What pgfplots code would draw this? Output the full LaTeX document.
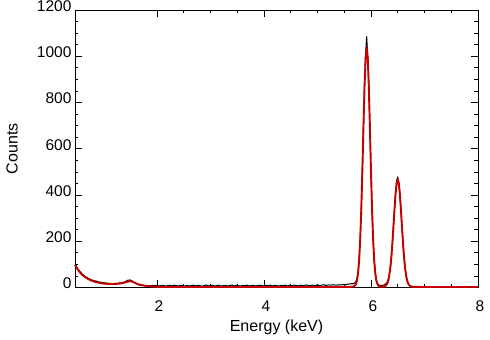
\documentclass[border=0pt]{standalone}
\usepackage{fontspec}
\setmainfont{Liberation Sans}
\usepackage{pgfplots}
\pgfplotsset{compat=1.18}
\usepackage{pgfplotstable}

\definecolor{fitred}{RGB}{196,0,0}

% measured spectrum (counts per bin)
\pgfplotstableread{
E c
0.48 98
0.50 90
0.52 80
0.54 76
0.56 70
0.58 66
0.60 58
0.62 55
0.64 52
0.66 47
0.68 45
0.70 43
0.72 37
0.74 39
0.76 33
0.78 34
0.80 30
0.82 31
0.84 27
0.86 29
0.88 25
0.90 26
0.92 22
0.94 24
0.96 21
0.98 23
1.00 19
1.02 21
1.04 18
1.06 20
1.08 17
1.10 19
1.12 16
1.14 18
1.16 17
1.18 15
1.20 18
1.22 16
1.24 19
1.26 17
1.28 18
1.30 20
1.32 19
1.34 21
1.36 20
1.38 23
1.40 24
1.42 27
1.44 29
1.46 32
1.48 31
1.50 33
1.52 30
1.54 28
1.56 25
1.58 22
1.60 18
1.62 16
1.64 13
1.66 12
1.68 10
1.70 11
1.72 9
1.74 8
1.76 9
1.78 7
1.80 8
1.84 8
1.88 7
1.92 9
1.96 8
2.00 10
2.04 7
2.08 8
2.12 9
2.16 6
2.20 8
2.24 9
2.28 7
2.32 10
2.36 8
2.40 7
2.44 9
2.48 8
2.52 6
2.56 9
2.60 7
2.64 8
2.68 10
2.72 7
2.76 9
2.80 8
2.84 6
2.88 8
2.92 11
2.96 7
3.00 8
3.04 9
3.08 7
3.12 8
3.16 10
3.20 6
3.24 8
3.28 9
3.32 7
3.36 8
3.40 11
3.44 7
3.48 9
3.52 8
3.56 6
3.60 9
3.64 8
3.68 10
3.72 7
3.76 8
3.80 9
3.84 7
3.88 8
3.92 10
3.96 8
4.00 7
4.04 9
4.08 8
4.12 10
4.16 7
4.20 9
4.24 8
4.28 6
4.32 9
4.36 8
4.40 10
4.44 7
4.48 9
4.52 8
4.56 10
4.60 9
4.64 7
4.68 10
4.72 8
4.76 9
4.80 11
4.84 8
4.88 9
4.92 10
4.96 8
5.00 11
5.04 9
5.08 10
5.12 12
5.16 9
5.20 11
5.24 10
5.28 12
5.32 11
5.36 10
5.40 12
5.44 11
5.48 13
5.50 11
5.52 13
5.54 12
5.56 15
5.58 14
5.60 16
5.62 15
5.64 17
5.66 16
5.68 18
5.70 21
5.72 27
5.74 40
5.76 70
5.78 128
5.80 222
5.82 352
5.84 521
5.86 708
5.88 880
5.90 1012
5.92 1085
5.94 1001
5.96 872
5.98 690
6.00 503
6.02 336
6.04 206
6.06 118
6.08 62
6.10 33
6.12 18
6.14 12
6.16 10
6.18 9
6.20 8
6.22 10
6.24 11
6.26 13
6.28 17
6.30 23
6.32 33
6.34 52
6.36 84
6.38 131
6.40 193
6.42 266
6.44 341
6.46 410
6.48 462
6.50 478
6.52 455
6.54 402
6.56 333
6.58 255
6.60 184
6.62 124
6.64 78
6.66 45
6.68 25
6.70 14
6.72 9
6.74 6
6.76 5
6.78 4
6.80 4
6.84 3
6.88 4
6.92 2
6.96 3
7.00 4
7.04 2
7.08 3
7.12 2
7.16 4
7.20 3
7.24 2
7.28 3
7.32 4
7.36 2
7.40 3
7.44 2
7.48 3
7.52 4
7.56 2
7.60 3
7.64 2
7.68 3
7.72 2
7.76 3
7.80 2
7.84 3
7.88 2
7.92 3
7.96 2
8.00 2
}\spectrum

% fitted model
\pgfplotstableread{
E c
0.47 97
0.50 86
0.54 72
0.58 61
0.62 52
0.66 45
0.70 39
0.75 33
0.80 28
0.85 24
0.90 21
0.95 19
1.00 17
1.10 15
1.20 15
1.30 17
1.36 19
1.40 22
1.45 25
1.50 27
1.55 25
1.60 19
1.65 14
1.70 11
1.80 7
1.90 4
2.00 3
2.20 2
5.50 2
5.60 3
5.64 3
5.66 4
5.68 5
5.70 8
5.72 15
5.74 31
5.76 63
5.78 120
5.80 211
5.82 343
5.84 510
5.86 696
5.88 869
5.90 993
5.92 1038
5.94 993
5.96 869
5.98 696
6.00 510
6.02 343
6.04 211
6.06 120
6.08 63
6.10 31
6.12 15
6.14 8
6.16 5
6.18 4
6.20 3
6.22 3
6.24 4
6.26 5
6.28 9
6.30 15
6.32 27
6.34 48
6.36 81
6.38 128
6.40 190
6.42 262
6.44 338
6.46 405
6.48 451
6.50 468
6.52 451
6.54 405
6.56 338
6.58 262
6.60 190
6.62 128
6.64 81
6.66 48
6.68 27
6.70 15
6.72 9
6.74 5
6.76 4
6.78 3
6.80 3
7.00 2
8.00 2
}\fit

\begin{document}
\begin{tikzpicture}
\begin{axis}[
    at={(0,0)}, anchor=south west,
    scale only axis,
    width=403pt, height=277.5pt,
    xmin=0.47, xmax=8, ymin=0, ymax=1200,
    xtick={2,4,6,8},
    ytick={0,200,...,1200},
    minor x tick num=3,
    minor y tick num=3,
    tick align=inside,
    tick pos=both,
    major tick length=7pt,
    minor tick length=3.5pt,
    axis line style={line width=0.8pt},
    every tick/.style={black, line width=0.7pt},
    clip=false,
    /pgf/number format/assume math mode=true,
    /pgf/number format/1000 sep={},
    tick label style={font=\fontsize{15.5}{18}\selectfont},
    xticklabel style={yshift=-10pt, xshift=2pt},
    yticklabel style={yshift=4pt},
    xlabel={Energy (keV)},
    ylabel={Counts},
    every axis x label/.style={at={(axis description cs:0.5,-0.142)}, anchor=center,
        font=\fontsize{16}{19}\selectfont},
    every axis y label/.style={at={(axis description cs:-0.156,0.5)}, anchor=center,
        rotate=90, font=\fontsize{16}{19}\selectfont},
]
\addplot[black, line width=1pt, line join=round] table[x=E, y=c] {\spectrum};
\addplot[fitred, line width=1.9pt, line join=round] table[x=E, y=c] {\fit};
\end{axis}
\pgfresetboundingbox
\path (-75pt,-52.5pt) rectangle (415pt,287.5pt);
\end{tikzpicture}
\end{document}
